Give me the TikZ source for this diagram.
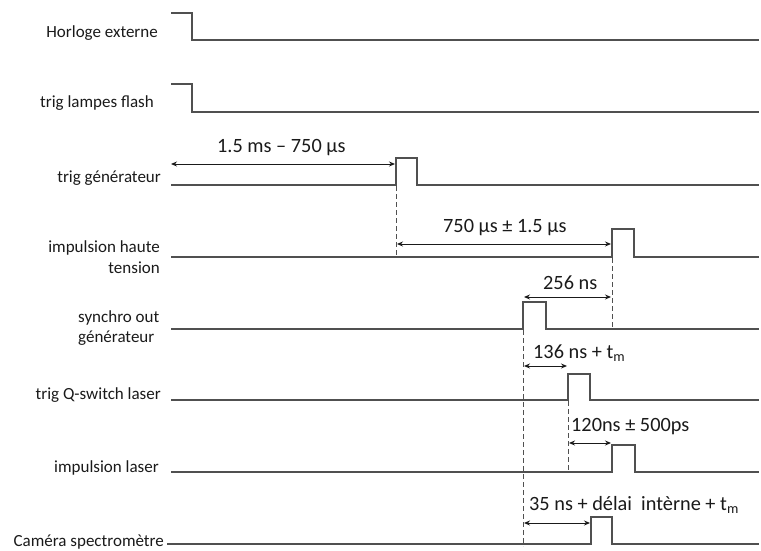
\documentclass[tikz,border=0pt]{standalone}
\usepackage{fontspec}
\setmainfont{Carlito}
\usetikzlibrary{arrows.meta}
\definecolor{sigcol}{HTML}{505050}
\definecolor{txtcol}{HTML}{1A1A1A}
\begin{document}
\begin{tikzpicture}[x=1pt,y=-1pt,
  sig/.style={draw=sigcol, line width=1.4pt, line join=miter},
  lbl/.style={font=\fontsize{17}{20.5}\selectfont, text=txtcol, inner sep=0pt},
  dimtxt/.style={font=\fontsize{20.3}{24}\selectfont, text=txtcol, inner sep=0pt},
  dimarrow/.style={{Stealth[length=6pt,width=5pt]}-{Stealth[length=6pt,width=5pt]}, line width=0.9pt, draw=txtcol},
  guide/.style={dash pattern=on 5pt off 3pt, line width=0.7pt, draw=sigcol}]
\useasboundingbox (0,0) rectangle (761,551);

% labels
\node[lbl, anchor=east] (l1) at (158,33) {Horloge externe};
\node[lbl, anchor=east] (l2) at (154,103) {trig lampes flash};
\node[lbl, anchor=east] (l3) at (161,178) {trig générateur};
\node[lbl, anchor=east, align=right] (l4) at (160,257) {impulsion haute\\tension};
\node[lbl, anchor=west, align=left] (l5) at (78,328) {synchro out\\générateur};
\node[lbl, anchor=east] (l6) at (161,395) {trig Q-switch laser};
\node[lbl, anchor=east] (l7) at (159,468) {impulsion laser};
\node[lbl, anchor=east] (l8) at (164,542) {Caméra spectromètre};

% signals
\draw[sig] (171,13) -- (192,13) -- (192,40) -- (759,40);
\draw[sig] (171,84) -- (192,84) -- (192,112) -- (759,112);
\draw[sig] (171,185) -- (396,185) -- (396,158) -- (417,158) -- (417,185) -- (759,185);
\draw[sig] (171,257) -- (612,257) -- (612,229) -- (634,229) -- (634,257) -- (759,257);
\draw[sig] (171,329) -- (523,329) -- (523,302) -- (546,302) -- (546,329) -- (759,329);
\draw[sig] (171,400) -- (568,400) -- (568,374) -- (590,374) -- (590,400) -- (759,400);
\draw[sig] (171,472) -- (612,472) -- (612,445) -- (635,445) -- (635,472) -- (759,472);
\draw[sig] (167,544) -- (591,544) -- (591,517) -- (612,517) -- (612,544) -- (759,544);

% guide lines
\coordinate (g1a) at (396,186); \coordinate (g1b) at (396,257);
\coordinate (g2a) at (612,258); \coordinate (g2b) at (612,329);
\coordinate (g3a) at (523,330); \coordinate (g3b) at (523,546);
\coordinate (g4a) at (568,401); \coordinate (g4b) at (568,472);
\draw[guide] (g1a) -- (g1b);
\draw[guide] (g2a) -- (g2b);
\draw[guide] (g3a) -- (g3b);
\draw[guide] (g4a) -- (g4b);

% dimension arrows
\coordinate (a1s) at (171,164); \coordinate (a1e) at (395,164);
\coordinate (a2s) at (397,244); \coordinate (a2e) at (611,244);
\coordinate (a3s) at (524,297); \coordinate (a3e) at (611,297);
\coordinate (a4s) at (524,366); \coordinate (a4e) at (567,366);
\coordinate (a5s) at (569,443); \coordinate (a5e) at (611,443);
\coordinate (a6s) at (524,523); \coordinate (a6e) at (590,523);
\draw[dimarrow] (a1s) -- (a1e);
\draw[dimarrow] (a2s) -- (a2e);
\draw[dimarrow] (a3s) -- (a3e);
\draw[dimarrow] (a4s) -- (a4e);
\draw[dimarrow] (a5s) -- (a5e);
\draw[dimarrow] (a6s) -- (a6e);

\node[dimtxt, anchor=west] (t1) at (217,148) {1.5 ms – 750 µs};
\node[dimtxt, anchor=west] (t2) at (443,228) {750 µs ± 1.5 µs};
\node[dimtxt, anchor=west] (t3) at (543,283) {256 ns};
\node[dimtxt, anchor=west] (t4) at (533,353) {136 ns + t\textsubscript{m}};
\node[dimtxt, anchor=west] (t5) at (571,427) {120ns ± 500ps};
\node[dimtxt, anchor=west] (t6) at (529,505) {35 ns + délai\ \ intèrne + t\textsubscript{m}};
\end{tikzpicture}
\end{document}
